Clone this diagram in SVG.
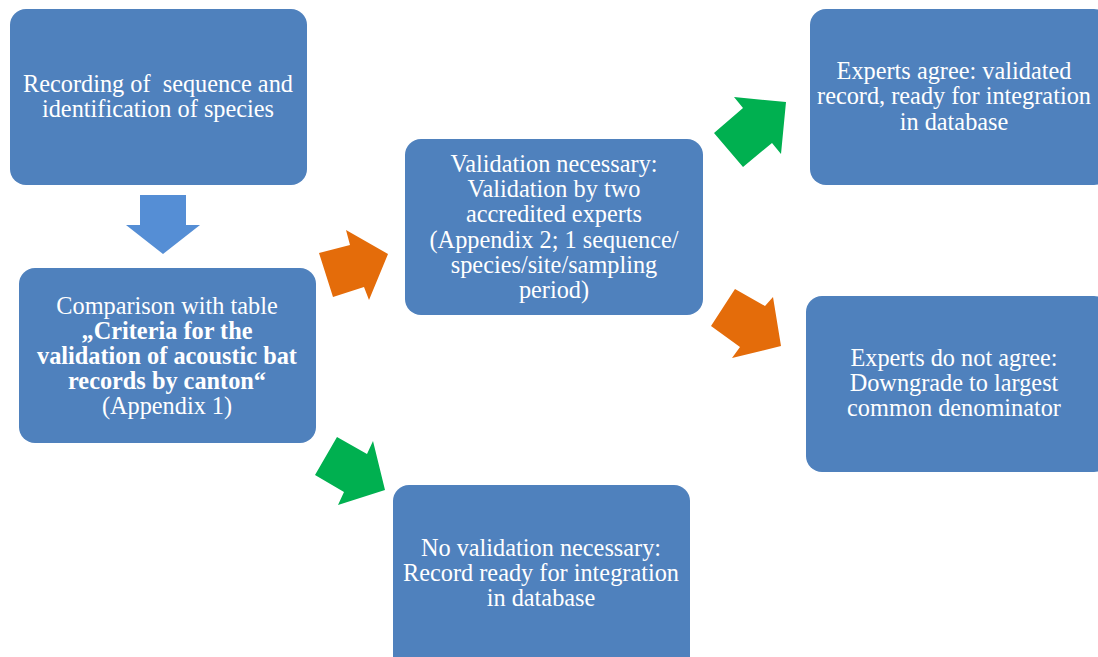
<svg xmlns="http://www.w3.org/2000/svg" width="1098" height="657" viewBox="0 0 1098 657">
<style>
.box{fill:#4F81BD;}
.t{font-family:"Liberation Serif","Times New Roman",serif;font-size:24.3px;fill:#FFFFFF;text-anchor:middle;white-space:pre;}
.b{font-weight:bold;}
.orange{fill:#E46C0A;}
.green{fill:#00B050;}
.blue{fill:#558ED5;}
</style>
<rect width="1098" height="657" fill="#FFFFFF"/>
<g id="node-recording">
<rect class="box" x="10" y="9" width="297" height="176" rx="16"/>
<text class="t" x="158" y="92" xml:space="preserve">Recording of  sequence and</text>
<text class="t" x="158" y="117">identification of species</text>
</g>
<g id="node-comparison">
<rect class="box" x="19" y="268" width="297" height="175" rx="16"/>
<text class="t" x="167" y="314">Comparison with table</text>
<text class="t b" x="167" y="339">„Criteria for the</text>
<text class="t b" x="167" y="364">validation of acoustic bat</text>
<text class="t b" x="167" y="389">records by canton“</text>
<text class="t" x="167" y="414">(Appendix 1)</text>
</g>
<g id="node-validation">
<rect class="box" x="405" y="139" width="298" height="176" rx="16"/>
<text class="t" x="554" y="172">Validation necessary:</text>
<text class="t" x="554" y="197">Validation by two</text>
<text class="t" x="554" y="222">accredited experts</text>
<text class="t" x="554" y="248">(Appendix 2; 1 sequence/</text>
<text class="t" x="554" y="273">species/site/sampling</text>
<text class="t" x="554" y="298">period)</text>
</g>
<g id="node-agree">
<rect class="box" x="810" y="9" width="300" height="176" rx="16"/>
<text class="t" x="954" y="79">Experts agree: validated</text>
<text class="t" x="954" y="104">record, ready for integration</text>
<text class="t" x="954" y="130">in database</text>
</g>
<g id="node-disagree">
<rect class="box" x="806" y="296" width="304" height="176" rx="16"/>
<text class="t" x="954" y="366">Experts do not agree:</text>
<text class="t" x="954" y="391">Downgrade to largest</text>
<text class="t" x="954" y="416">common denominator</text>
</g>
<g id="node-novalidation">
<rect class="box" x="393" y="485" width="297" height="190" rx="16"/>
<text class="t" x="541" y="556">No validation necessary:</text>
<text class="t" x="541" y="581">Record ready for integration</text>
<text class="t" x="541" y="606">in database</text>
</g>
<g id="connectors">
<polygon class="blue" points="140,195 186,195 186,225 200,225 163,254 126,225 140,225"/>
<polygon class="orange" points="319,253 350,245 346,230 388,254 369,300 364,287 333,297"/>
<polygon class="green" points="315,475 337,437 367,454 373,441 385,490 338,505 344,492"/>
<polygon class="green" points="714,133 743,108 734,97 786,102 781,154 772,143 743,167"/>
<polygon class="orange" points="711,326 735,289 765,306 773,297 781,346 732,358 740,347"/>
</g>
</svg>
